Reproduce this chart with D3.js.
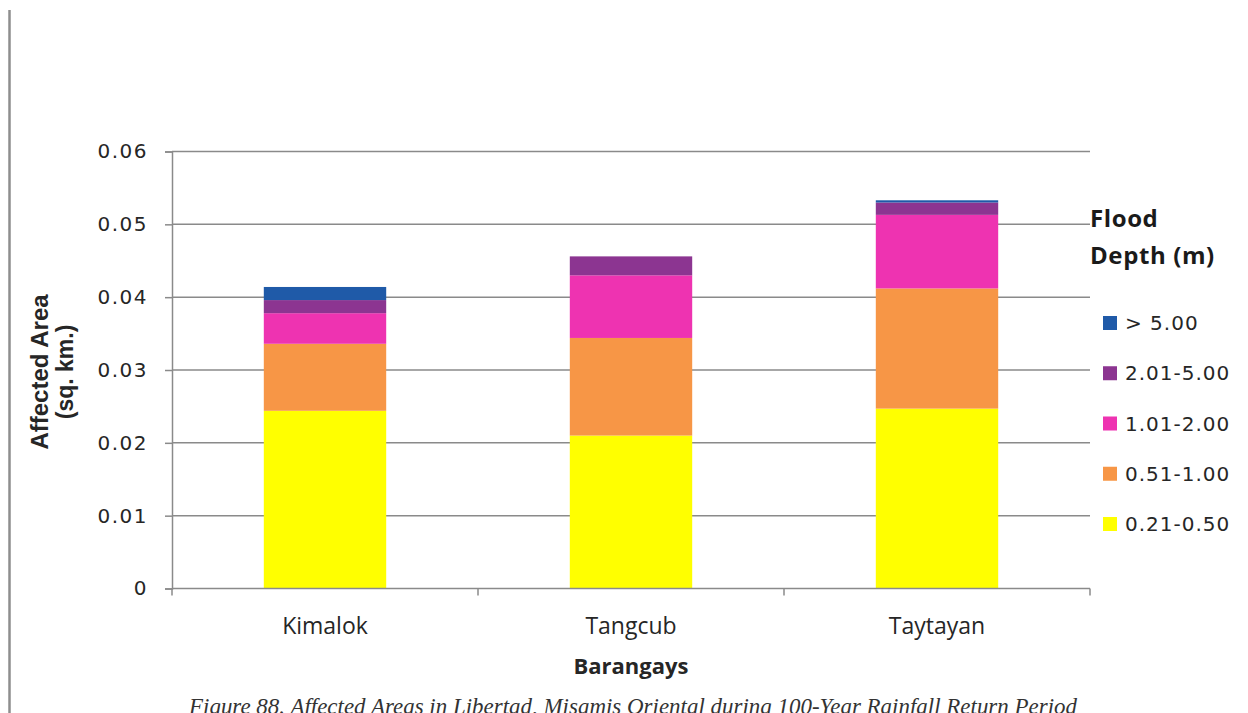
<!DOCTYPE html>
<html>
<head>
<meta charset="utf-8">
<script src="https://cdn.jsdelivr.net/npm/d3@7"></script>
<style>
  html, body { margin: 0; padding: 0; background: #fff; }
  svg { display: block; }
</style>
</head>
<body>
<svg id="chart" width="1248" height="713"></svg>
<script>
// Barangays on the x axis
const categories = ["Kimalok", "Tangcub", "Taytayan"];

// Affected area (sq. km.) per flood depth class, one value per barangay
const depth021to050 = [0.0244, 0.0210, 0.0247];
const depth051to100 = [0.0092, 0.0134, 0.0165];
const depth101to200 = [0.0042, 0.0086, 0.0101];
const depth201to500 = [0.0018, 0.0026, 0.0017];
const depthOver500  = [0.0018, 0.0000, 0.0003];

// Depth class names, bottom of the stack first
const depthClasses = ["0.21-0.50", "0.51-1.00", "1.01-2.00", "2.01-5.00", "> 5.00"];
const depthColors  = ["#FFFF00", "#F79646", "#EE33B1", "#8C3591", "#1F5AA8"];

const yTicks = [0, 0.01, 0.02, 0.03, 0.04, 0.05, 0.06];
const yTickLabels = ["0", "0.01", "0.02", "0.03", "0.04", "0.05", "0.06"];

const seriesValues = [depth021to050, depth051to100, depth101to200, depth201to500, depthOver500];

// Rows for the stack layout
const rows = categories.map((c, i) => {
  const r = { barangay: c };
  depthClasses.forEach((k, j) => { r[k] = seriesValues[j][i]; });
  return r;
});

const svg = d3.select("#chart");
const plot = { left: 172, right: 1090, top: 151.5, bottom: 588.5 };

const x = d3.scaleBand()
  .domain(categories)
  .range([plot.left, plot.right])
  .paddingInner(0.6)
  .paddingOuter(0.3);

const y = d3.scaleLinear()
  .domain([0, 0.06])
  .range([plot.bottom, plot.top]);

const gridColor = "#8A8A8A";

// Page rule at the far left
svg.append("line")
  .attr("x1", 9.5).attr("x2", 9.5)
  .attr("y1", 10).attr("y2", 713)
  .attr("stroke", "#8E8E8E").attr("stroke-width", 2.5);

// Horizontal gridlines
svg.append("g")
  .selectAll("line")
  .data(yTicks.slice(1))
  .join("line")
  .attr("x1", plot.left).attr("x2", plot.right)
  .attr("y1", d => y(d)).attr("y2", d => y(d))
  .attr("stroke", gridColor).attr("stroke-width", 1.5);

// Stacked bars
const stack = d3.stack().keys(depthClasses);
const layers = stack(rows);

svg.append("g")
  .selectAll("g")
  .data(layers)
  .join("g")
  .attr("fill", (d, i) => depthColors[i])
  .selectAll("rect")
  .data(d => d)
  .join("rect")
  .attr("x", d => x(d.data.barangay))
  .attr("width", x.bandwidth())
  .attr("y", d => y(d[1]))
  .attr("height", d => Math.max(0, y(d[0]) - y(d[1])));

// Y axis
const yAxis = d3.axisLeft(y)
  .tickValues(yTicks)
  .tickFormat((d, i) => yTickLabels[i])
  .tickSize(7)
  .tickPadding(17);

const gy = svg.append("g")
  .attr("transform", `translate(${plot.left},0)`)
  .call(yAxis);
gy.select(".domain").attr("stroke", gridColor).attr("stroke-width", 1.5);
gy.selectAll(".tick line").attr("stroke", gridColor).attr("stroke-width", 1.5);
gy.selectAll(".tick text")
  .attr("fill", "#262626")
  .style("font-family", "'DejaVu Sans', sans-serif")
  .style("font-size", "20px")
  .style("letter-spacing", "1.5px");

// X axis with ticks at category boundaries
const gx = svg.append("g")
  .attr("transform", `translate(0,${plot.bottom})`);
gx.append("line")
  .attr("x1", plot.left).attr("x2", plot.right)
  .attr("y1", 0).attr("y2", 0)
  .attr("stroke", gridColor).attr("stroke-width", 1.5);
const boundaries = [plot.left].concat(categories.map(c => x(c) + x.bandwidth() + x.step() * 0.3));
gx.selectAll("line.tk")
  .data(boundaries)
  .join("line")
  .attr("class", "tk")
  .attr("x1", d => d).attr("x2", d => d)
  .attr("y1", 0).attr("y2", 7)
  .attr("stroke", gridColor).attr("stroke-width", 1.5);
gx.selectAll("text")
  .data(categories)
  .join("text")
  .attr("x", d => x(d) + x.bandwidth() / 2)
  .attr("y", 45)
  .attr("text-anchor", "middle")
  .attr("fill", "#262626")
  .style("font-family", "'Open Sans', sans-serif")
  .style("font-size", "23px")
  .text(d => d);

// Axis titles
svg.append("text")
  .attr("x", (plot.left + plot.right) / 2)
  .attr("y", 674)
  .attr("text-anchor", "middle")
  .attr("fill", "#262626")
  .style("font-family", "'Open Sans', sans-serif")
  .style("font-weight", "bold")
  .style("font-size", "22px")
  .text("Barangays");

const yTitle = svg.append("text")
  .attr("transform", "translate(48,372) rotate(-90)")
  .attr("text-anchor", "middle")
  .attr("fill", "#262626")
  .style("font-family", "'Liberation Sans', Arial, sans-serif")
  .style("font-weight", "bold")
  .style("font-size", "24px");
yTitle.append("tspan").attr("x", 0).attr("dy", 0).text("Affected Area");
yTitle.append("tspan").attr("x", 0).attr("dy", 25).style("font-size", "23px").text("(sq. km.)");

// Legend
const legend = svg.append("g");
legend.append("text")
  .attr("x", 1090).attr("y", 227)
  .attr("fill", "#1a1a1a")
  .style("font-family", "'Open Sans', sans-serif")
  .style("font-weight", "bold")
  .style("font-size", "24px")
  .style("letter-spacing", "0.6px")
  .text("Flood");
legend.append("text")
  .attr("x", 1090).attr("y", 264)
  .attr("fill", "#1a1a1a")
  .style("font-family", "'Open Sans', sans-serif")
  .style("font-weight", "bold")
  .style("font-size", "24px")
  .style("letter-spacing", "0.6px")
  .text("Depth (m)");

const legendOrder = depthClasses.map((d, i) => i).reverse();
const legendY = d3.scalePoint().domain(legendOrder).range([323, 524]);
const items = legend.selectAll("g.item")
  .data(legendOrder)
  .join("g")
  .attr("class", "item")
  .attr("transform", i => `translate(1103,${legendY(i)})`);
items.append("rect")
  .attr("x", 0).attr("y", -7)
  .attr("width", 14).attr("height", 14)
  .attr("fill", i => depthColors[i]);
items.append("text")
  .attr("x", 22).attr("y", 7)
  .attr("fill", "#262626")
  .style("font-family", "'DejaVu Sans', sans-serif")
  .style("font-size", "20px")
  .style("letter-spacing", "1px")
  .text(i => depthClasses[i]);

// Figure caption along the bottom edge
svg.append("text")
  .attr("x", 189).attr("y", 714)
  .attr("fill", "#333")
  .attr("textLength", 888)
  .attr("lengthAdjust", "spacingAndGlyphs")
  .style("font-family", "'Liberation Serif', serif")
  .style("font-style", "italic")
  .style("font-size", "23px")
  .text("Figure 88. Affected Areas in Libertad, Misamis Oriental during 100-Year Rainfall Return Period");
</script>
</body>
</html>
